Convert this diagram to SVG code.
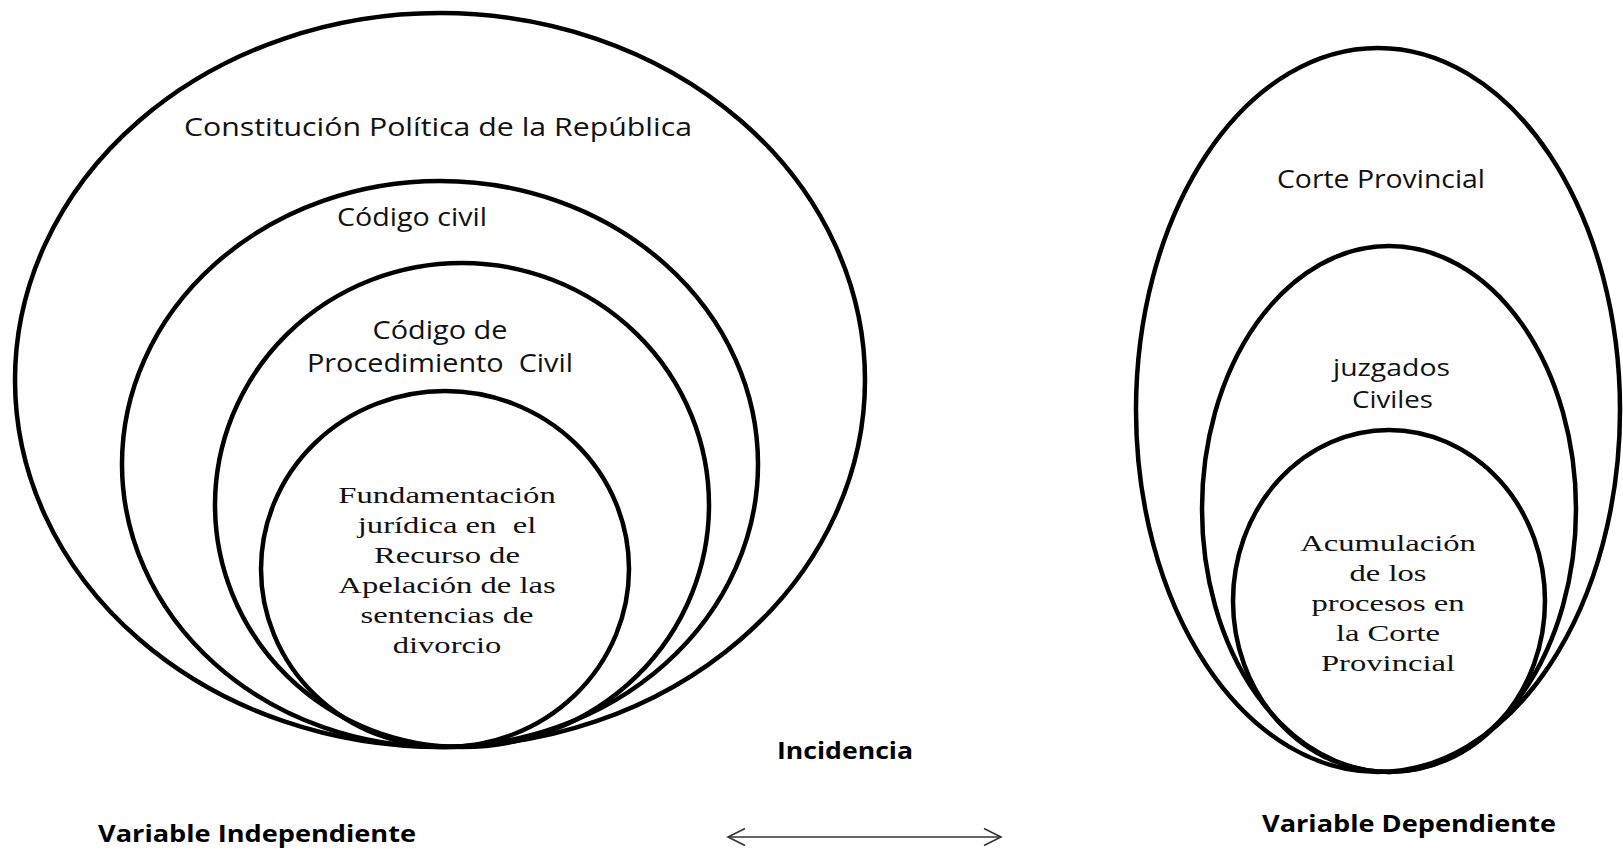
<svg xmlns="http://www.w3.org/2000/svg" width="1623" height="849" viewBox="0 0 1623 849">
<style>
.ring{fill:none;stroke:#000;stroke-width:4.5}
.sans{font-family:"Open Sans","Liberation Sans",sans-serif;font-size:25px;fill:#111;text-anchor:middle}
.sm{font-size:23px}
.serif{font-family:"Liberation Serif","Times New Roman",serif;font-size:24px;fill:#111;text-anchor:middle}
.bold{font-family:"Open Sans","Liberation Sans",sans-serif;font-size:24px;font-weight:700;fill:#000;text-anchor:middle}
.conn{fill:none;stroke:#333;stroke-width:1.6}
</style>
<defs>
<marker id="open" viewBox="0 0 20 20" refX="18" refY="10" markerWidth="20" markerHeight="20" markerUnits="userSpaceOnUse" orient="auto-start-reverse">
<path d="M1,1.5 L18,10 L1,18.5" fill="none" stroke="#333" stroke-width="1.6"/>
</marker>
</defs>
<rect width="1623" height="849" fill="#fff"/>

<g id="constitucion">
<ellipse class="ring" cx="440" cy="380" rx="425" ry="367"/>
<text class="sans" x="438" y="136" textLength="508" lengthAdjust="spacingAndGlyphs">Constitución Política de la República</text>
</g>
<g id="codigo-civil">
<ellipse class="ring" cx="440" cy="464" rx="318" ry="283"/>
<text class="sans" x="412" y="226" textLength="150" lengthAdjust="spacingAndGlyphs">Código civil</text>
</g>
<g id="codigo-procedimiento">
<ellipse class="ring" cx="462" cy="505" rx="247" ry="242"/>
<text class="sans" x="440" y="339" textLength="135" lengthAdjust="spacingAndGlyphs">Código de</text>
<text class="sans" x="440" y="372" textLength="266" lengthAdjust="spacingAndGlyphs" xml:space="preserve">Procedimiento  Civil</text>
</g>
<g id="fundamentacion">
<ellipse class="ring" cx="445" cy="569" rx="184" ry="178"/>
<g transform="translate(447 0) scale(1.36 1)">
<text class="serif" x="0" y="503">Fundamentación</text>
<text class="serif" x="0" y="533" xml:space="preserve">jurídica en  el</text>
<text class="serif" x="0" y="563">Recurso de</text>
<text class="serif" x="0" y="593">Apelación de las</text>
<text class="serif" x="0" y="623">sentencias de</text>
<text class="serif" x="0" y="653">divorcio</text>
</g>
</g>

<g id="corte-provincial">
<ellipse class="ring" cx="1378" cy="410" rx="242" ry="362"/>
<text class="sans" x="1381" y="188" textLength="208" lengthAdjust="spacingAndGlyphs">Corte Provincial</text>
</g>
<g id="juzgados">
<ellipse class="ring" cx="1389" cy="509" rx="187" ry="263"/>
<text class="sans sm" x="1391.5" y="376" textLength="117" lengthAdjust="spacingAndGlyphs">juzgados</text>
<text class="sans sm" x="1392.5" y="408" textLength="81" lengthAdjust="spacingAndGlyphs">Civiles</text>
</g>
<g id="acumulacion">
<ellipse class="ring" cx="1389" cy="601" rx="156" ry="171"/>
<g transform="translate(1388 0) scale(1.36 1)">
<text class="serif" x="0" y="551">Acumulación</text>
<text class="serif" x="0" y="581">de los</text>
<text class="serif" x="0" y="611">procesos en</text>
<text class="serif" x="0" y="641">la Corte</text>
<text class="serif" x="0" y="671">Provincial</text>
</g>
</g>

<g id="labels">
<text class="bold" x="845" y="759" textLength="136" lengthAdjust="spacingAndGlyphs">Incidencia</text>
<text class="bold" x="257" y="842" textLength="318" lengthAdjust="spacingAndGlyphs">Variable Independiente</text>
<text class="bold" x="1409" y="832" textLength="294" lengthAdjust="spacingAndGlyphs">Variable Dependiente</text>
</g>

<g id="connectors">
<line class="conn" x1="728" y1="837" x2="1001" y2="837" marker-start="url(#open)" marker-end="url(#open)"/>
</g>
</svg>
